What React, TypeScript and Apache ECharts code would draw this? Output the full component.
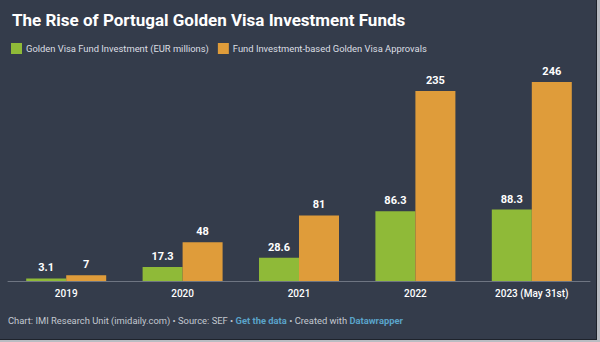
import React, { useEffect, useRef } from "react";
import * as echarts from "echarts";

const categories = ["2019", "2020", "2021", "2022", "2023 (May 31st)"];
const fundInvestment = [3.1, 17.3, 28.6, 86.3, 88.3];
const approvals = [7, 48, 81, 235, 246];
const seriesNames = [
  "Golden Visa Fund Investment (EUR millions)",
  "Fund Investment-based Golden Visa Approvals",
];

export default function App() {
  const ref = useRef<HTMLDivElement>(null);
  useEffect(() => {
    document.body.style.margin = "0";
    const chart = echarts.init(ref.current!, null, { renderer: "svg" });
    const font = "Roboto";
    chart.setOption({
      animation: false,
      backgroundColor: "#343c4b",
      textStyle: { fontFamily: font },
      title: {
        text: "The Rise of Portugal Golden Visa Investment Funds",
        left: 7,
        top: 6,
        textStyle: { color: "#ffffff", fontSize: 17, fontWeight: "bold", fontFamily: font },
      },
      legend: {
        left: 6,
        top: 38,
        icon: "rect",
        itemWidth: 11,
        itemHeight: 11,
        itemGap: 9,
        textStyle: { color: "#dcdfe4", fontSize: 9.4, fontFamily: font, padding: [0, 0, 0, -1] },
        data: seriesNames,
      },
      grid: { left: 8, right: 10, top: 82, bottom: 61, containLabel: false },
      xAxis: {
        type: "category",
        data: categories,
        axisLine: { lineStyle: { color: "#6e7582", width: 1 } },
        axisTick: { show: false },
        axisLabel: { color: "#ffffff", fontSize: 10, fontWeight: 500, margin: 7, fontFamily: font },
      },
      yAxis: {
        type: "value",
        min: 0,
        max: 246,
        show: false,
        splitLine: { show: false },
      },
      series: [
        {
          name: seriesNames[0],
          type: "bar",
          data: fundInvestment,
          barWidth: 40,
          barGap: "0%",
          itemStyle: { color: "#8fba38" },
          label: {
            show: true,
            position: "top",
            distance: 5,
            color: "#ffffff",
            fontSize: 11,
            fontWeight: "bold",
            fontFamily: font,
          },
        },
        {
          name: seriesNames[1],
          type: "bar",
          data: approvals,
          barWidth: 40,
          itemStyle: { color: "#df9c3a" },
          label: {
            show: true,
            position: "top",
            distance: 5,
            color: "#ffffff",
            fontSize: 11,
            fontWeight: "bold",
            fontFamily: font,
          },
        },
      ],
      graphic: [
        {
          type: "text",
          left: 8,
          top: 316,
          style: {
            text: "{g|Chart: IMI Research Unit (imidaily.com) • Source: SEF • }{l|Get the data}{g| • Created with }{l|Datawrapper}",
            rich: {
              g: { fill: "#c3c8d0", fontSize: 9.4, fontFamily: font },
              l: { fill: "#5aa3c9", fontSize: 9.4, fontWeight: "bold", fontFamily: font },
            },
          },
        },
        {
          type: "rect",
          shape: { x: 596, y: 0, width: 1, height: 342 },
          style: { fill: "#1e232c" },
        },
        {
          type: "rect",
          shape: { x: 597, y: 0, width: 3, height: 342 },
          style: { fill: "#b9bcc2" },
        },
        {
          type: "rect",
          shape: { x: 0, y: 339, width: 597, height: 1 },
          style: { fill: "#1e232c" },
        },
        {
          type: "rect",
          shape: { x: 0, y: 340, width: 600, height: 2 },
          style: { fill: "#b9bcc2" },
        },
      ],
    });
    return () => chart.dispose();
  }, []);
  return <div ref={ref} style={{ width: 600, height: 342 }} />;
}
